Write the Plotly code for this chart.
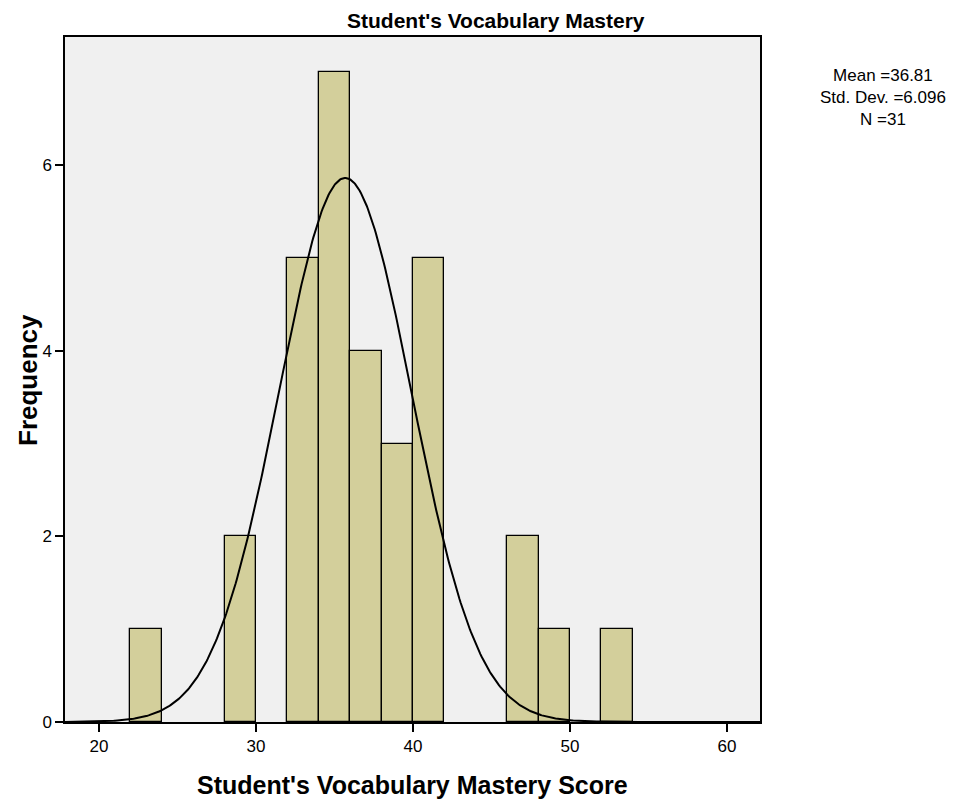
import numpy as np
import plotly.graph_objects as go

# Histogram data (bin lower edges, bin width 2)
bin_lower = [22, 28, 32, 34, 36, 38, 40, 46, 48, 52]
frequency = [1, 2, 5, 7, 4, 3, 5, 2, 1, 1]
bin_width = 2

# Normal curve parameters as drawn
curve_mean = 35.68
curve_sd = 4.22
n_total = 31

stats_lines = ["Mean =36.81", "Std. Dev. =6.096", "N =31"]
x_ticks = [20, 30, 40, 50, 60]
y_ticks = [0, 2, 4, 6]

x_min, x_max = 17.83, 62.10
y_max = 7.38

centers = [b + bin_width / 2 for b in bin_lower]

xs = np.linspace(x_min, x_max, 600)
ys = n_total * bin_width / (curve_sd * np.sqrt(2 * np.pi)) * np.exp(-0.5 * ((xs - curve_mean) / curve_sd) ** 2)

fig = go.Figure()
fig.add_trace(go.Bar(
    x=centers, y=frequency, width=[bin_width] * len(centers),
    marker=dict(color="#D3CF9B", line=dict(color="black", width=1.3)),
    hoverinfo="skip", showlegend=False,
))
fig.add_trace(go.Scatter(
    x=xs, y=ys, mode="lines", line=dict(color="black", width=2),
    hoverinfo="skip", showlegend=False,
))

font_family = "Liberation Sans, Arial, sans-serif"

# page body has an 8px margin; compensate so the picture lines up
OFF = 8
FIG_W, FIG_H = 954 - OFF, 802 - OFF
L, R, T, B = 65 - OFF, 760 - OFF, 37 - OFF, 722 - OFF
W, H = R - L, B - T

def px(x):
    return (x - OFF - L) / W

def py(y):
    return (B - (y - OFF)) / H

annotations = [
    dict(text="<b>Student's Vocabulary Mastery</b>", x=px(496), y=py(21),
         font=dict(size=21, family=font_family)),
    dict(text="<b>Student's Vocabulary Mastery Score</b>", x=px(412), y=py(785),
         font=dict(size=25, family=font_family)),
    dict(text="<b>Frequency</b>", x=px(28), y=py(380), textangle=-90,
         font=dict(size=26, family=font_family)),
    dict(text="<br>".join(stats_lines), x=px(883), y=py(97), align="center",
         font=dict(size=17, family=font_family)),
]
for a in annotations:
    a.update(xref="paper", yref="paper", xanchor="center", yanchor="middle", showarrow=False)

fig.update_layout(
    width=FIG_W, height=FIG_H,
    margin=dict(l=L, r=FIG_W - R, t=T, b=FIG_H - B),
    paper_bgcolor="white",
    plot_bgcolor="#F0F0F0",
    font=dict(family=font_family, color="black"),
    bargap=0,
    annotations=annotations,
)

fig.update_xaxes(
    range=[x_min, x_max], tickvals=x_ticks, ticktext=[str(v) for v in x_ticks],
    showgrid=False, zeroline=False, automargin=False,
    showline=True, mirror=True, linecolor="black", linewidth=1.5,
    ticks="outside", ticklen=8, tickwidth=1.5, tickcolor="black",
    tickfont=dict(size=17, family=font_family),
)
fig.update_yaxes(
    range=[0, y_max], tickvals=y_ticks, ticktext=[str(v) for v in y_ticks],
    showgrid=False, zeroline=False, automargin=False,
    showline=True, mirror=True, linecolor="black", linewidth=1.5,
    ticks="outside", ticklen=8, tickwidth=1.5, tickcolor="black",
    tickfont=dict(size=17, family=font_family),
)

fig.write_html("out.html")
